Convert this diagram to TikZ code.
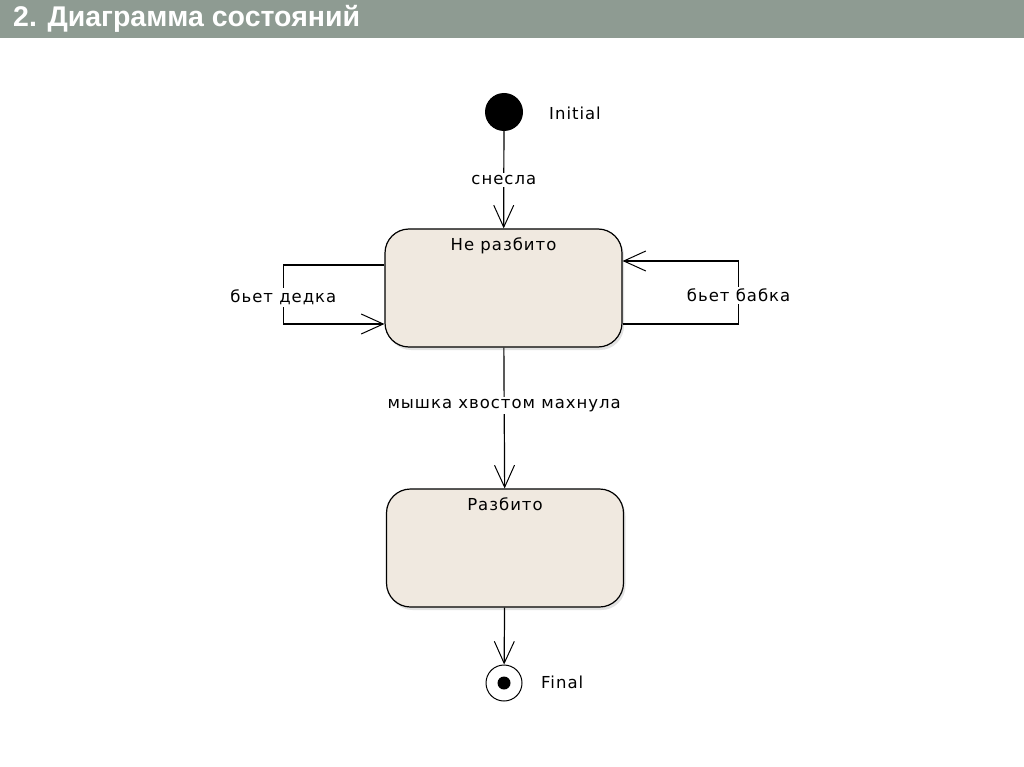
\documentclass[tikz,border=0pt]{standalone}
\usepackage{fontspec}
\setmainfont{Liberation Sans}
\newfontfamily\lblfont[LetterSpace=6]{DejaVu Sans}
\usetikzlibrary{arrows.meta, positioning, shadows}
\definecolor{titlegray}{RGB}{142,155,146}
\definecolor{statefill}{RGB}{240,233,224}

\begin{document}
\begin{tikzpicture}[x=1pt, y=-1pt,
  stbox/.style={draw, line width=1.2pt, rounded corners=24pt, fill=statefill,
    minimum width=237pt, minimum height=118pt,
    drop shadow={shadow xshift=2pt, shadow yshift=-3pt, fill=gray!45}},
  sttext/.style={font=\lblfont\fontsize{16.5}{18}\selectfont, anchor=north, inner sep=9pt},
  trans/.style={line width=1.2pt, -{Straight Barb[length=22pt, width=20pt, line width=1pt]}},
  lbl/.style={font=\lblfont\fontsize{16.5}{18}\selectfont, fill=white, inner sep=2pt},
  txt/.style={font=\lblfont\fontsize{16.5}{18}\selectfont, inner sep=0pt},
  startdot/.style={circle, fill=black, minimum size=38pt, inner sep=0pt},
  enddot/.style={circle, draw, line width=1pt, fill=white, minimum size=36pt, inner sep=0pt},
  enddotin/.style={circle, fill=black, minimum size=13pt, inner sep=0pt}]

  % рамка и заголовок
  \useasboundingbox (0,0) rectangle (1024,767);
  \fill[titlegray] (0,0) rectangle (1024,38);
  \node[anchor=west, text=white, inner sep=0pt,
    font=\bfseries\fontsize{28.5}{32}\selectfont] (title) at (13,19) {2. Диаграмма состояний};

  % состояния
  \node[startdot] (init) at (504,112) {};
  \node[txt, anchor=west] (initlbl) at (549,113) {Initial};
  \node[stbox, label={[sttext]north:Не разбито}] (whole) at (503.5,288) {};
  \node[stbox, label={[sttext]north:Разбито}] (broken) at (505,548) {};
  \node[enddot] (final) at (504,683) {};
  \node[enddotin] (finalin) at (final) {};
  \node[txt, anchor=west] (finallbl) at (541,682) {Final};

  % переходы
  \draw[trans] (init) -- (whole) node[lbl, pos=0.5] (t1) {снесла};
  \draw[trans] ([yshift=23pt]whole.west) -- ++(-101,0) -- ++(0,59)
    node[lbl, pos=0.55] (t2) {бьет дедка} -- ([yshift=-36pt]whole.west);
  \draw[trans] ([yshift=-36pt]whole.east) -- ++(116,0) -- ++(0,-63)
    node[lbl, pos=0.45] (t3) {бьет бабка} -- ([yshift=27pt]whole.east);
  \draw[trans] (whole) -- (broken) node[lbl, pos=0.41] (t4) {мышка хвостом махнула};
  \draw[trans] (broken) -- (final);
\end{tikzpicture}
\end{document}
